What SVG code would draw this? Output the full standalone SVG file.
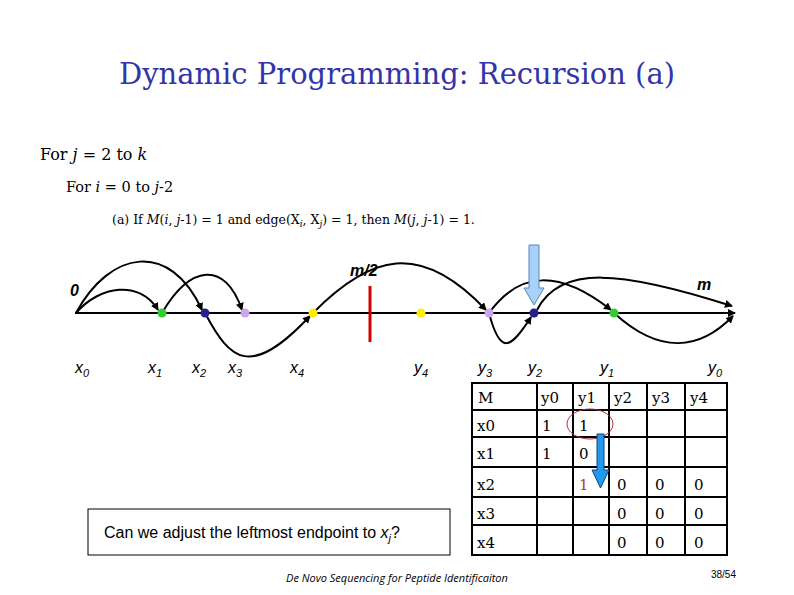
<svg xmlns="http://www.w3.org/2000/svg" width="794" height="595" viewBox="0 0 794 595">
<defs>
<marker id="ah" markerWidth="8" markerHeight="8" refX="7" refY="4" orient="auto" markerUnits="userSpaceOnUse"><path d="M0,0 L8,4 L0,8 z" fill="#000"/></marker>
<style>
.t{font-family:"DejaVu Serif",serif;fill:#000}
.c{fill:none;stroke:#000;stroke-width:2;marker-end:url(#ah)}
.g{stroke:#000;stroke-width:2;fill:none}
.tc{font-family:"DejaVu Serif",serif;font-size:15px}
</style>
</defs>
<rect width="794" height="595" fill="#fff"/>
<text x="397" y="84" text-anchor="middle" font-family="DejaVu Serif,serif" font-size="29" fill="#3333aa">Dynamic Programming: Recursion (a)</text>
<text x="40" y="160" class="t" font-size="16">For <tspan font-style="italic">j</tspan> = 2 to <tspan font-style="italic">k</tspan></text>
<text x="66" y="192" class="t" font-size="14.5">For <tspan font-style="italic">i</tspan> = 0 to <tspan font-style="italic">j</tspan>-2</text>
<text x="112" y="224" class="t" font-size="12.5">(a) If <tspan font-style="italic">M</tspan>(<tspan font-style="italic">i</tspan>, <tspan font-style="italic">j</tspan>-1) = 1 and edge(X<tspan font-size="9" dy="3" font-style="italic">i</tspan><tspan dy="-3">, X</tspan><tspan font-size="9" dy="3" font-style="italic">j</tspan><tspan dy="-3">)   = 1, then </tspan><tspan font-style="italic">M</tspan>(<tspan font-style="italic">j</tspan>, <tspan font-style="italic">j</tspan>-1) = 1.</text>
<g id="connectors">
<line x1="75" y1="313" x2="735" y2="313" class="c"/>
<path class="c" d="M76,313 C100,285 140,280 158,310"/>
<path class="c" d="M76,313 C110,250 170,240 202,310"/>
<path class="c" d="M162,313 C190,265 225,260 242,310"/>
<path class="c" d="M205,313 C230,360 250,380 310,316"/>
<path class="c" d="M313,313 C370,255 420,240 486,310"/>
<path class="c" d="M489,313 C500,355 510,350 531,317"/>
<path class="c" d="M489,313 C520,270 560,270 611,310"/>
<path class="c" d="M537,310 C560,265 620,270 732,306"/>
<path class="c" d="M614,313 C660,355 700,350 733,316"/>
<line x1="370" y1="286" x2="370" y2="342" stroke="#d40000" stroke-width="3"/>
</g>
<g id="points">
<circle cx="162" cy="313" r="4.5" fill="#33cc33"/>
<circle cx="205" cy="313" r="4.5" fill="#222288"/>
<circle cx="245" cy="313" r="4.5" fill="#c8a8e8"/>
<circle cx="313" cy="313" r="4.5" fill="#ffee00"/>
<circle cx="421" cy="313" r="4.5" fill="#ffee00"/>
<circle cx="489" cy="313" r="4.5" fill="#c8a8e8"/>
<circle cx="534" cy="313" r="4.5" fill="#222288"/>
<circle cx="614" cy="313" r="4.5" fill="#33cc33"/>
</g>
<g id="blue-arrow"><path d="M529,245 L539,245 L539,288 L544,288 L534,305 L524,288 L529,288 z" fill="#a8d0f8" stroke="#5588bb" stroke-width="1"/></g>
<g id="labels" font-family="Liberation Sans,Arial,sans-serif" font-style="italic" font-size="16">
<text x="70" y="296" font-weight="bold">0</text>
<text x="350" y="276" font-weight="bold">m/2</text>
<text x="697" y="290" font-weight="bold">m</text>
<text x="75" y="373">x<tspan font-size="11" dy="4">0</tspan></text>
<text x="148" y="373">x<tspan font-size="11" dy="4">1</tspan></text>
<text x="192" y="373">x<tspan font-size="11" dy="4">2</tspan></text>
<text x="228" y="373">x<tspan font-size="11" dy="4">3</tspan></text>
<text x="290" y="373">x<tspan font-size="11" dy="4">4</tspan></text>
<text x="414" y="373">y<tspan font-size="11" dy="4">4</tspan></text>
<text x="478" y="373">y<tspan font-size="11" dy="4">3</tspan></text>
<text x="528" y="373">y<tspan font-size="11" dy="4">2</tspan></text>
<text x="600" y="373">y<tspan font-size="11" dy="4">1</tspan></text>
<text x="708" y="373">y<tspan font-size="11" dy="4">0</tspan></text>
</g>
<g id="table">
<rect x="472" y="383" width="255" height="172" class="g"/>
<g class="g">
<line x1="537" y1="383" x2="537" y2="555"/><line x1="573" y1="383" x2="573" y2="555"/><line x1="609" y1="383" x2="609" y2="555"/><line x1="647" y1="383" x2="647" y2="555"/><line x1="685" y1="383" x2="685" y2="555"/>
<line x1="472" y1="410" x2="727" y2="410"/><line x1="472" y1="437" x2="727" y2="437"/><line x1="472" y1="467" x2="727" y2="467"/><line x1="472" y1="497" x2="727" y2="497"/><line x1="472" y1="525" x2="727" y2="525"/>
</g>
<g class="tc">
<text x="478" y="403">M</text><text x="541" y="403">y0</text><text x="578" y="403">y1</text><text x="614" y="403">y2</text><text x="652" y="403">y3</text><text x="690" y="403">y4</text>
<text x="477" y="431">x0</text><text x="542" y="431">1</text><text x="579" y="431">1</text>
<text x="477" y="459">x1</text><text x="542" y="459">1</text><text x="579" y="459">0</text>
<text x="477" y="490">x2</text><text x="579" y="490" fill="#b04020">1</text><text x="617" y="490">0</text><text x="655" y="490">0</text><text x="694" y="490">0</text>
<text x="477" y="519">x3</text><text x="617" y="519">0</text><text x="655" y="519">0</text><text x="694" y="519">0</text>
<text x="477" y="548">x4</text><text x="617" y="548">0</text><text x="655" y="548">0</text><text x="694" y="548">0</text>
</g>
<ellipse cx="590" cy="424" rx="23" ry="15" fill="none" stroke="#b03040" stroke-width="1"/>
<path d="M597,434 L604,434 L604,470 L609,470 L600.5,488 L592,470 L597,470 z" fill="#2299ee" stroke="#114477" stroke-width="1"/>
</g>
<g id="question">
<rect x="88" y="509" width="362" height="46" fill="#fff" stroke="#000" stroke-width="1"/>
<text x="104" y="538" font-family="Liberation Sans,Arial,sans-serif" font-size="16">Can we adjust the leftmost endpoint to <tspan font-style="italic">x</tspan><tspan font-style="italic" font-size="11" dy="4">j</tspan><tspan dy="-4">?</tspan></text>
</g>
<text x="397" y="582" text-anchor="middle" font-family="Open Sans,sans-serif" font-size="11" font-style="italic">De Novo Sequencing for Peptide Identificaiton</text>
<text x="736" y="578" text-anchor="end" font-family="Liberation Sans,sans-serif" font-size="10">38/54</text>
</svg>
